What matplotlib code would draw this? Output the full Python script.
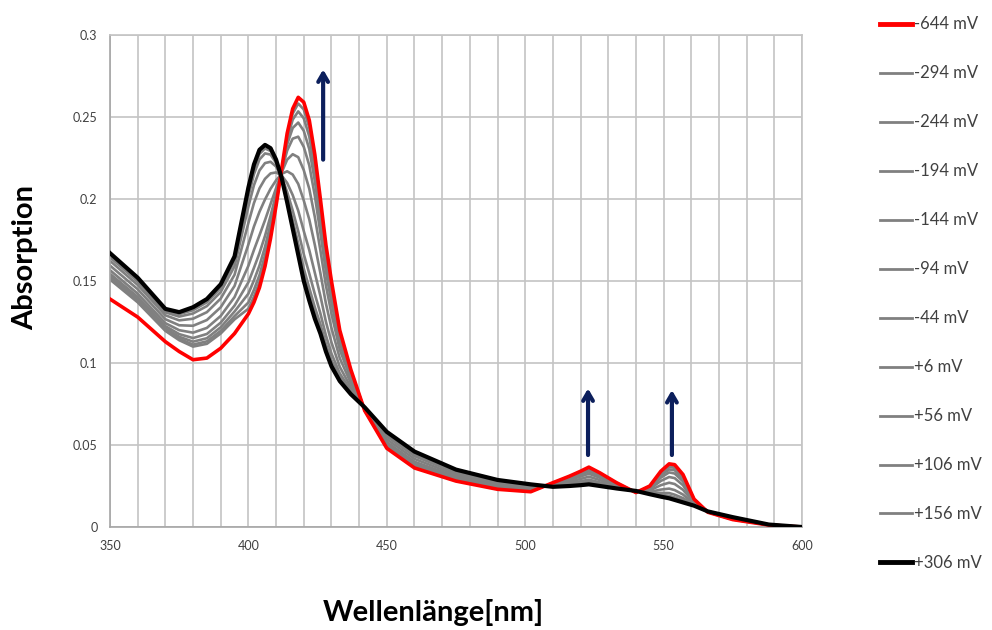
import matplotlib
matplotlib.use("Agg")
import matplotlib.pyplot as plt
from matplotlib.lines import Line2D
from matplotlib.ticker import MultipleLocator

plt.rcParams['font.family'] = ['Lato', 'DejaVu Sans']

# Wavelength grid (nm)
wavelength = [350, 360, 370, 375, 380, 385, 390, 395,
              400, 402, 404, 406, 408, 410, 412, 414, 416, 418, 420, 422, 424, 426, 428, 430,
              433, 437, 442, 450, 460, 475, 490,
              502, 510, 516, 520, 523, 527, 533,
              540, 545, 549, 552, 554, 557, 561, 566,
              575, 588, 600]

# Absorption spectra per applied potential
abs_m644 = [0.139, 0.128, 0.113, 0.107, 0.102, 0.103, 0.109, 0.118,
            0.130, 0.137, 0.146, 0.159, 0.176, 0.196, 0.218, 0.240, 0.255, 0.262, 0.259, 0.248, 0.227, 0.200, 0.172, 0.150,
            0.120, 0.096, 0.071, 0.048, 0.036, 0.028, 0.023,
            0.0215, 0.027, 0.031, 0.034, 0.0365, 0.033, 0.027,
            0.021, 0.025, 0.034, 0.0385, 0.038, 0.032, 0.017, 0.009,
            0.0045, 0.0012, 0.0]
abs_m294 = [0.1509, 0.1370, 0.1196, 0.1139, 0.1100, 0.1117, 0.1180, 0.1266,
            0.1331, 0.1404, 0.1494, 0.1620, 0.1782, 0.1971, 0.2178, 0.2383, 0.2521, 0.2582, 0.2546, 0.2436, 0.2230, 0.1967, 0.1694, 0.1479,
            0.1188, 0.0954, 0.0711, 0.0484, 0.0364, 0.0283, 0.0232,
            0.0217, 0.0269, 0.0308, 0.0337, 0.0361, 0.0327, 0.0269,
            0.0210, 0.0248, 0.0334, 0.0377, 0.0371, 0.0313, 0.0168, 0.0090,
            0.0046, 0.0012, 0.0]
abs_m244 = [0.1517, 0.1378, 0.1203, 0.1148, 0.1112, 0.1132, 0.1196, 0.1286,
            0.1369, 0.1446, 0.1536, 0.1657, 0.1809, 0.1985, 0.2176, 0.2362, 0.2484, 0.2534, 0.2492, 0.2381, 0.2180, 0.1926, 0.1662, 0.1453,
            0.1172, 0.0947, 0.0712, 0.0489, 0.0369, 0.0286, 0.0235,
            0.0219, 0.0268, 0.0305, 0.0332, 0.0356, 0.0323, 0.0267,
            0.0211, 0.0246, 0.0326, 0.0366, 0.0361, 0.0305, 0.0166, 0.0090,
            0.0046, 0.0012, 0.0]
abs_m194 = [0.1529, 0.1389, 0.1212, 0.1160, 0.1130, 0.1151, 0.1218, 0.1314,
            0.1423, 0.1504, 0.1594, 0.1708, 0.1848, 0.2005, 0.2172, 0.2333, 0.2433, 0.2466, 0.2416, 0.2304, 0.2110, 0.1869, 0.1616, 0.1417,
            0.1150, 0.0936, 0.0713, 0.0496, 0.0376, 0.0291, 0.0239,
            0.0222, 0.0266, 0.0300, 0.0326, 0.0348, 0.0317, 0.0264,
            0.0212, 0.0242, 0.0315, 0.0351, 0.0346, 0.0293, 0.0164, 0.0091,
            0.0047, 0.0012, 0.0]
abs_m144 = [0.1544, 0.1403, 0.1225, 0.1176, 0.1152, 0.1177, 0.1246, 0.1350,
            0.1492, 0.1580, 0.1670, 0.1775, 0.1897, 0.2030, 0.2168, 0.2295, 0.2368, 0.2380, 0.2318, 0.2205, 0.2020, 0.1795, 0.1558, 0.1370,
            0.1123, 0.0923, 0.0715, 0.0505, 0.0385, 0.0297, 0.0244,
            0.0226, 0.0264, 0.0295, 0.0319, 0.0339, 0.0310, 0.0261,
            0.0213, 0.0238, 0.0301, 0.0333, 0.0326, 0.0278, 0.0160, 0.0091,
            0.0049, 0.0013, 0.0]
abs_m94 = [0.1566, 0.1423, 0.1243, 0.1200, 0.1185, 0.1214, 0.1287, 0.1402,
           0.1593, 0.1689, 0.1779, 0.1871, 0.1969, 0.2066, 0.2161, 0.2240, 0.2273, 0.2255, 0.2176, 0.2062, 0.1890, 0.1688, 0.1473, 0.1302,
           0.1082, 0.0903, 0.0718, 0.0518, 0.0398, 0.0307, 0.0252,
           0.0232, 0.0261, 0.0287, 0.0308, 0.0325, 0.0300, 0.0257,
           0.0214, 0.0231, 0.0281, 0.0305, 0.0298, 0.0255, 0.0155, 0.0092,
           0.0051, 0.0013, 0.0]
abs_m44 = [0.1594, 0.1450, 0.1267, 0.1230, 0.1227, 0.1262, 0.1340, 0.1470,
           0.1723, 0.1832, 0.1922, 0.1997, 0.2062, 0.2114, 0.2153, 0.2169, 0.2149, 0.2092, 0.1991, 0.1875, 0.1720, 0.1549, 0.1363, 0.1214,
           0.1030, 0.0878, 0.0721, 0.0535, 0.0415, 0.0318, 0.0261,
           0.0240, 0.0256, 0.0277, 0.0293, 0.0307, 0.0286, 0.0251,
           0.0216, 0.0223, 0.0255, 0.0270, 0.0262, 0.0227, 0.0148, 0.0093,
           0.0053, 0.0014, 0.0]
abs_p6 = [0.1623, 0.1476, 0.1291, 0.1260, 0.1270, 0.1310, 0.1393, 0.1538,
          0.1854, 0.1975, 0.2065, 0.2123, 0.2156, 0.2162, 0.2144, 0.2098, 0.2024, 0.1929, 0.1805, 0.1688, 0.1550, 0.1410, 0.1252, 0.1126,
          0.0977, 0.0852, 0.0724, 0.0552, 0.0432, 0.0330, 0.0271,
          0.0247, 0.0252, 0.0267, 0.0279, 0.0289, 0.0272, 0.0245,
          0.0217, 0.0214, 0.0228, 0.0234, 0.0225, 0.0198, 0.0141, 0.0094,
          0.0056, 0.0014, 0.0]
abs_p56 = [0.1645, 0.1497, 0.1309, 0.1283, 0.1302, 0.1347, 0.1433, 0.1590,
           0.1954, 0.2084, 0.2174, 0.2219, 0.2227, 0.2198, 0.2138, 0.2043, 0.1930, 0.1804, 0.1664, 0.1545, 0.1420, 0.1303, 0.1168, 0.1058,
           0.0937, 0.0833, 0.0727, 0.0565, 0.0445, 0.0339, 0.0278,
           0.0253, 0.0249, 0.0259, 0.0268, 0.0276, 0.0262, 0.0240,
           0.0219, 0.0208, 0.0208, 0.0207, 0.0197, 0.0176, 0.0136, 0.0094,
           0.0058, 0.0015, 0.0]
abs_p106 = [0.1658, 0.1509, 0.1320, 0.1298, 0.1322, 0.1370, 0.1458, 0.1622,
            0.2016, 0.2151, 0.2241, 0.2278, 0.2271, 0.2220, 0.2134, 0.2009, 0.1871, 0.1727, 0.1576, 0.1457, 0.1340, 0.1237, 0.1116, 0.1016,
            0.0912, 0.0821, 0.0729, 0.0573, 0.0453, 0.0345, 0.0283,
            0.0257, 0.0247, 0.0254, 0.0261, 0.0267, 0.0256, 0.0237,
            0.0219, 0.0204, 0.0196, 0.0190, 0.0180, 0.0162, 0.0133, 0.0095,
            0.0059, 0.0015, 0.0]
abs_p156 = [0.1665, 0.1515, 0.1326, 0.1305, 0.1332, 0.1381, 0.1471, 0.1638,
            0.2047, 0.2185, 0.2275, 0.2308, 0.2293, 0.2232, 0.2132, 0.1993, 0.1842, 0.1689, 0.1533, 0.1413, 0.1300, 0.1205, 0.1090, 0.0996,
            0.0899, 0.0815, 0.0729, 0.0577, 0.0457, 0.0348, 0.0285,
            0.0259, 0.0246, 0.0252, 0.0258, 0.0263, 0.0252, 0.0236,
            0.0220, 0.0202, 0.0190, 0.0181, 0.0171, 0.0155, 0.0131, 0.0095,
            0.0060, 0.0015, 0.0]
abs_p306 = [0.167, 0.152, 0.133, 0.131, 0.134, 0.139, 0.148, 0.165,
            0.207, 0.221, 0.230, 0.233, 0.231, 0.224, 0.213, 0.198, 0.182, 0.166, 0.150, 0.138, 0.127, 0.118, 0.107, 0.098,
            0.089, 0.081, 0.073, 0.058, 0.046, 0.035, 0.0287,
            0.026, 0.0245, 0.025, 0.0255, 0.026, 0.025, 0.0235,
            0.022, 0.020, 0.0185, 0.0175, 0.0165, 0.015, 0.013, 0.0095,
            0.006, 0.0015, 0.0]

potential_labels = ['-644 mV', '-294 mV', '-244 mV', '-194 mV', '-144 mV', '-94 mV',
                    '-44 mV', '+6 mV', '+56 mV', '+106 mV', '+156 mV', '+306 mV']
spectra = [abs_m644, abs_m294, abs_m244, abs_m194, abs_m144, abs_m94,
           abs_m44, abs_p6, abs_p56, abs_p106, abs_p156, abs_p306]

# Arrows marking the growing bands (x, y_start, y_end)
arrow_x = [427, 522.7, 553]
arrow_y0 = [0.224, 0.0439, 0.0439]
arrow_y1 = [0.279, 0.0845, 0.0835]

fig = plt.figure(figsize=(9.92, 6.30), dpi=100)
ax = fig.add_axes([110 / 992, 1 - 527 / 630, 692 / 992, 492 / 630])

grid_col = '#c4c4c4'
ax.set_xlim(350, 600)
ax.set_ylim(0, 0.3)
ax.xaxis.set_major_locator(MultipleLocator(50))
ax.xaxis.set_minor_locator(MultipleLocator(10))
ax.yaxis.set_major_locator(MultipleLocator(0.05))
ax.grid(True, which='both', axis='x', color=grid_col, lw=1.2)
ax.grid(True, which='major', axis='y', color=grid_col, lw=1.2)
ax.set_axisbelow(True)
for s in ax.spines.values():
    s.set_color(grid_col)
    s.set_linewidth(1.2)
ax.spines['left'].set_color('#a6a6a6')
ax.spines['bottom'].set_color('#a6a6a6')
ax.tick_params(which='both', length=0, labelsize=9, colors='#404040', pad=9)
ax.set_yticks([0, 0.05, 0.1, 0.15, 0.2, 0.25, 0.3])
ax.set_yticklabels(['0', '0.05', '0.1', '0.15', '0.2', '0.25', '0.3'])

handles = []
n = len(spectra)
# intermediates first, then reduced (red), oxidized (black) on top
for i, (lab, y) in enumerate(zip(potential_labels, spectra)):
    if i == 0:
        col, lw, z = '#ff0000', 2.6, 3
    elif i == n - 1:
        col, lw, z = '#000000', 3.0, 4
    else:
        col, lw, z = '#808080', 1.9, 2
    ax.plot(wavelength, y, color=col, lw=lw, zorder=z, solid_joinstyle='round')
    handles.append(Line2D([0], [0], color=col, lw=(3.5 if i in (0, n - 1) else 2.0)))

for x, y0, y1 in zip(arrow_x, arrow_y0, arrow_y1):
    ax.annotate('', xy=(x, y1), xytext=(x, y0),
                arrowprops=dict(arrowstyle='->,head_length=0.6,head_width=0.35',
                                color='#0c1f5c', lw=3.0, shrinkA=0, shrinkB=0),
                zorder=6)

fig.text(433 / 992, 1 - 613 / 630, 'Wellenlänge[nm]', ha='center', va='center',
         fontsize=21, fontweight='bold', color='#000000')
fig.text(25 / 992, 1 - 258 / 630, 'Absorption', ha='center', va='center',
         rotation=90, fontsize=21, fontweight='bold', color='#000000')

fig.legend(handles, potential_labels, loc='upper left',
           bbox_to_anchor=(872 / 992, 1 - 8 / 630), frameon=False,
           fontsize=12, handlelength=1.9, handletextpad=0.15,
           labelspacing=1.98, borderpad=0, labelcolor='#404040')

fig.savefig('out.png', dpi=100)
